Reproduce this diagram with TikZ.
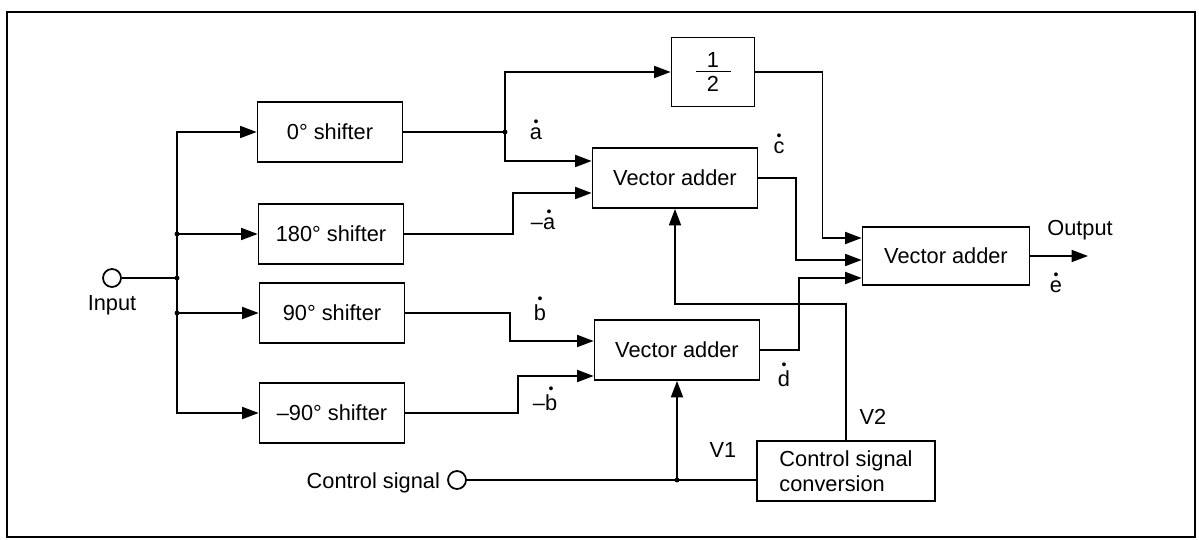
\documentclass[tikz,border=0pt]{standalone}
\usepackage{fontspec}
\usepackage{graphicx}
\setmainfont{Liberation Sans}
\usetikzlibrary{arrows.meta}
\newcommand{\sigfont}{\fontsize{12.4}{14}\selectfont}
\newcommand{\dotv}[1]{\vbox{\offinterlineskip\halign{\hfil##\hfil\cr\scalebox{0.65}{\textbullet}\cr\noalign{\kern1pt}#1\cr}}}
\newcommand{\halfmark}{\vbox{\offinterlineskip\halign{\hfil##\hfil\cr 1\cr\noalign{\kern2pt}\rule{0.7cm}{0.7pt}\cr\noalign{\kern2pt}2\cr}}}
\tikzset{
  box/.style={draw, line width=1pt, minimum width=#1, minimum height=1.2cm, inner sep=2pt,
              font=\sigfont, align=center},
  box/.default=2.9cm,
  port/.style={circle, draw, line width=1pt, minimum size=0.36cm, inner sep=0pt},
  lbl/.style={font=\sigfont, inner sep=1pt},
  wire/.style={line width=1pt},
  arr/.style={-{Triangle[length=3.3mm, width=2.4mm]}, line width=1pt},
  frame/.style={line width=1.1pt},
}

\begin{document}
\begin{tikzpicture}[x=0.02cm, y=-0.02cm]
\useasboundingbox (0,0) rectangle (1199,540);
\draw[frame] (7,12) rectangle (1195,537);

% shifters
\node[box] (s0) at (330,132) {0° shifter};
\node[box] (s180) at (331,234) {180° shifter};
\node[box] (s90) at (332,313) {90° shifter};
\node[box] (sm90) at (332,413) {–90° shifter};

% adders
\node[box=1.66cm, minimum height=1.38cm] (half) at (713,72) {\halfmark};
\node[box=3.3cm] (add1) at (675,178) {Vector adder};
\node[box=3.3cm] (add2) at (677,350) {Vector adder};
\node[box=3.34cm, minimum height=1.16cm] (add3) at (946,256) {Vector adder};
\node[box=3.56cm, align=left] (csc) at (846,471) {Control signal\\conversion};

% terminals
\node[port] (inp) at (112,278) {};
\node[lbl] (inlbl) at (112,305) {Input};
\node[port] (csin) at (457,480) {};
\node[lbl, anchor=east] (cslbl) at (442,483) {Control signal};
\coordinate (out) at (1088,256);
\node[lbl] (outlbl) at (1080,230) {Output};

% junctions
\coordinate (jin) at (177,278);
\coordinate (ja) at (505,132);
\coordinate (jv1) at (add2.south |- csin);

% input bus
\draw[wire] (inp) -- (jin);
\draw[arr] (jin) |- (s0.west);
\draw[arr] (jin) |- (sm90.west);
\draw[arr] (jin |- s180.west) -- (s180.west);
\draw[arr] (jin |- s90.west) -- (s90.west);

% shifters to adders
\draw[wire] (s0.east) -- (ja);
\draw[arr] (ja) |- (half.west);
\draw[arr] (ja) |- ([yshift=3.4mm]add1.west);
\draw[arr] (s180.east) -- ++(109,0) |- ([yshift=-3mm]add1.west);
\draw[arr] (s90.east) -- ++(105,0) |- ([yshift=1.8mm]add2.west);
\draw[arr] (sm90.east) -- ++(113,0) |- ([yshift=-5.2mm]add2.west);

% into the last adder
\draw[arr] (half.east) -- ++(67,0) |- ([yshift=3.6mm]add3.west);
\draw[arr] (add1.east) -- ++(38,0) |- ([yshift=-0.8mm]add3.west);
\draw[arr] (add2.east) -- ++(39,0) |- ([yshift=-4.4mm]add3.west);
\draw[arr] (add3.east) -- (out);

% control
\draw[wire] (csin) -- (csc.west |- csin);
\draw[arr] (jv1) -- (add2.south);
\draw[arr] (csc.north) -- ++(0,-136) -| (add1.south);

\foreach \p in {jin, ja, jv1, jin |- s180.west, jin |- s90.west}
  \fill (\p) circle[radius=1.4pt];

% signal labels
\node[lbl] (la) at (536,130) {\dotv{a}};
\node[lbl] (lma) at (543,220) {–\dotv{a}};
\node[lbl] (lb) at (540,309) {\dotv{b}};
\node[lbl] (lmb) at (545,399) {–\dotv{b}};
\node[lbl] (lc) at (779,144) {\dotv{c}};
\node[lbl] (ld) at (784,375) {\dotv{d}};
\node[lbl] (le) at (1056,283) {\dotv{e}};
\node[lbl] (lv1) at (723,450) {V1};
\node[lbl] (lv2) at (873,417) {V2};
\end{tikzpicture}
\end{document}
